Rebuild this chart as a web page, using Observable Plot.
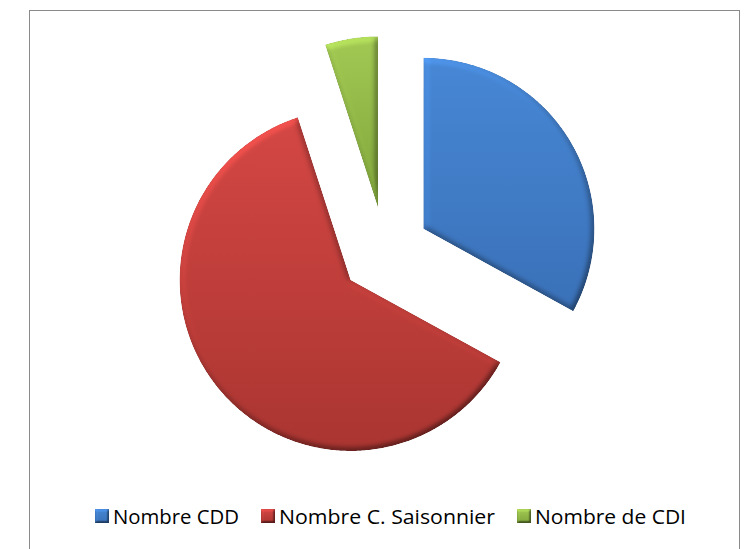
<!DOCTYPE html>
<html>
<head>
<meta charset="utf-8">
<script src="https://cdn.jsdelivr.net/npm/d3@7"></script>
<script src="https://cdn.jsdelivr.net/npm/@observablehq/plot@0.6"></script>
<style>
  html, body { margin: 0; padding: 0; background: #fff; }
  #wrap { position: relative; width: 748px; height: 549px; overflow: hidden; background: #fff; }
  #frame { position: absolute; left: 29px; top: 10px; width: 709px; height: 600px; border: 1px solid #8a8a8a; pointer-events: none; }
  #chart svg, #legend svg { display: block; }
</style>
</head>
<body>
<div id="wrap">
  <div id="chart"></div>
  <div id="legend"></div>
  <div id="frame"></div>
</div>
<script>
// ---- data ----
const categories = ["Nombre CDD", "Nombre C. Saisonnier", "Nombre de CDI"];
const values = [33, 62, 5];
const gradTop = ["#4787d5", "#d44744", "#a2c953"];
const gradBottom = ["#3a71b8", "#aa3531", "#7fa43b"];

// ---- layout ----
const W = 748, H = 500;
const cx = 384.5, cy = 251, R = 171;
const explode = 0.261;

const arcs = d3.pie().sort(null)(values);
const slices = arcs.map((a, i) => {
  const mid = (a.startAngle + a.endAngle) / 2;
  const ox = explode * Math.sin(mid), oy = explode * Math.cos(mid);
  const pts = [{x: ox, y: oy}];
  const n = Math.max(8, Math.ceil((a.endAngle - a.startAngle) / 0.01));
  for (let k = 0; k <= n; k++) {
    const t = a.startAngle + (a.endAngle - a.startAngle) * k / n;
    pts.push({x: ox + Math.sin(t), y: oy + Math.cos(t)});
  }
  return pts;
});

const defsFor = (p) => `
  ${categories.map((c, i) => `
  <linearGradient id="${p}grad${i}" x1="0" y1="0" x2="0" y2="1">
    <stop offset="0" stop-color="${gradTop[i]}"/>
    <stop offset="1" stop-color="${gradBottom[i]}"/>
  </linearGradient>`).join("")}
  <filter id="${p}bevel" x="-8%" y="-8%" width="116%" height="116%" color-interpolation-filters="sRGB">
    <feGaussianBlur in="SourceAlpha" stdDeviation="${p === "pie" ? 3 : 1.3}" result="blur"/>
    <feDiffuseLighting in="blur" surfaceScale="${p === "pie" ? 4 : 3}" diffuseConstant="1" lighting-color="#ffffff" result="light">
      <feDistantLight azimuth="235" elevation="50"/>
    </feDiffuseLighting>
    <feComposite in="SourceGraphic" in2="light" operator="arithmetic" k1="0.62" k2="0.525" k3="0" k4="0" result="lit"/>
    <feComposite in="lit" in2="SourceAlpha" operator="in" result="body"/>
  </filter>`;

const plot = Plot.plot({
  width: W,
  height: H,
  margin: 0,
  x: {domain: [-1, 1], range: [cx - R, cx + R], axis: null},
  y: {domain: [-1, 1], range: [cy + R, cy - R], axis: null},
  marks: slices.map((s, i) =>
    Plot.line(s, {x: "x", y: "y", fill: `url(#piegrad${i})`, stroke: "none", curve: "linear-closed"})
  )
});
const defs = document.createElementNS("http://www.w3.org/2000/svg", "defs");
defs.innerHTML = defsFor("pie");
plot.insertBefore(defs, plot.firstChild);
d3.select(plot).selectAll('g[aria-label="line"] path').attr("filter", "url(#piebevel)");
document.getElementById("chart").appendChild(plot);

// ---- legend ----
const legendH = 49;
const textWidths = [126, 216, 151];
const sw = 14, swGap = 4, itemGap = 22, startX = 95;
const lg = d3.create("svg").attr("width", W).attr("height", legendH)
  .style("font-family", "'Open Sans', sans-serif").style("font-size", "19.5px");
const ldefs = document.createElementNS("http://www.w3.org/2000/svg", "defs");
ldefs.innerHTML = defsFor("lg");
lg.node().appendChild(ldefs);
let x = startX;
categories.forEach((c, i) => {
  lg.append("rect").attr("x", x).attr("y", 9).attr("width", sw).attr("height", sw)
    .attr("fill", `url(#lggrad${i})`).attr("filter", "url(#lgbevel)");
  const tx = x + sw + swGap;
  lg.append("text").attr("x", tx).attr("y", 23.5).attr("fill", "#000")
    .attr("textLength", textWidths[i]).attr("lengthAdjust", "spacingAndGlyphs").text(c);
  x = tx + textWidths[i] + itemGap;
});
document.getElementById("legend").appendChild(lg.node());
</script>
</body>
</html>
